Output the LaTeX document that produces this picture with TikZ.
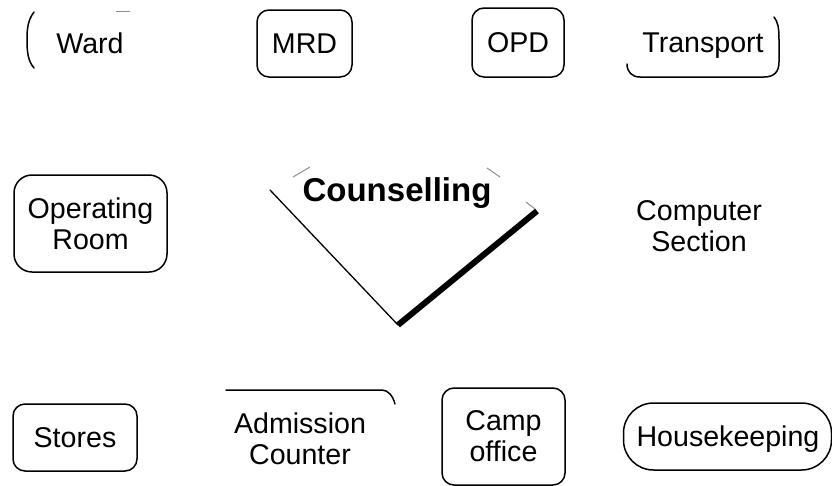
\documentclass[tikz,border=0pt]{standalone}
\usepackage{fontspec}
\setmainfont{Liberation Sans}
\tikzset{
  dept/.style={align=center, inner sep=0pt, font=\fontsize{28.6}{31}\selectfont},
  deptbox/.style={dept, draw, line width=1.5pt, rounded corners=12pt},
  scrap/.style={line width=1.5pt, line cap=round},
  faint/.style={line width=1pt, black!45}
}
\begin{document}
\begin{tikzpicture}[x=1pt, y=-1pt, line join=round]
  \useasboundingbox (0,0) rectangle (832,485);

  % top row
  \node[dept] (ward) at (90,43) {Ward};
  \node[deptbox, minimum width=95pt, minimum height=67pt] (mrd) at (304.5,43.5) {MRD};
  \node[deptbox, minimum width=92pt, minimum height=69pt] (opd) at (518,42.5) {OPD};
  \node[dept] (transport) at (703,46) {Transport};

  % middle row
  \node[deptbox, rounded corners=18pt, minimum width=153pt, minimum height=97pt] (or) at (90.5,223.5) {Operating\\Room};
  \node[dept, font=\fontsize{33}{36}\selectfont\bfseries] (counsel) at (397,193) {Counselling};
  \node[dept] (computer) at (699,226) {Computer\\Section};

  % bottom row
  \node[deptbox, minimum width=124pt, minimum height=67pt] (stores) at (75,437.5) {Stores};
  \node[dept] (admission) at (300,439) {Admission\\Counter};
  \node[deptbox, minimum width=123pt, minimum height=97pt] (camp) at (503.5,436.5) {Camp\\office};
  \node[deptbox, rounded corners=30pt, minimum width=208pt, minimum height=67pt] (house) at (727.5,436.5) {};
  \node[dept] (housetext) at (728,439) {Housekeeping};

  % broken outlines
  \draw[scrap] (34,12) .. controls (28,20) and (27,28) .. (27,40)
    .. controls (27,52) and (28,61) .. (34,68);
  \draw[faint] (116,11) -- (130,11);
  \draw[scrap] (774,17) .. controls (778,22) and (779,28) .. (779,40)
    -- (779,62) .. controls (779,72) and (774,77) .. (764,77)
    -- (640,77) .. controls (632,77) and (627,72) .. (627,64);
  \draw[scrap] (226,390) -- (382,390) .. controls (388,390) and (393,396) .. (395,404);

  % counselling V
  \coordinate (vl) at (270,190);
  \coordinate (vb) at (398,325);
  \coordinate (vr) at (537,211);
  \draw[line width=1.3pt, line cap=round] (vl) -- (vb);
  \draw[line width=6pt] (vb) -- (vr);
  \draw[faint] (293,177) -- (310,167);
  \draw[faint] (487,168) -- (500,177);
  \draw[faint] (526,202) -- (535,209);
\end{tikzpicture}
\end{document}
